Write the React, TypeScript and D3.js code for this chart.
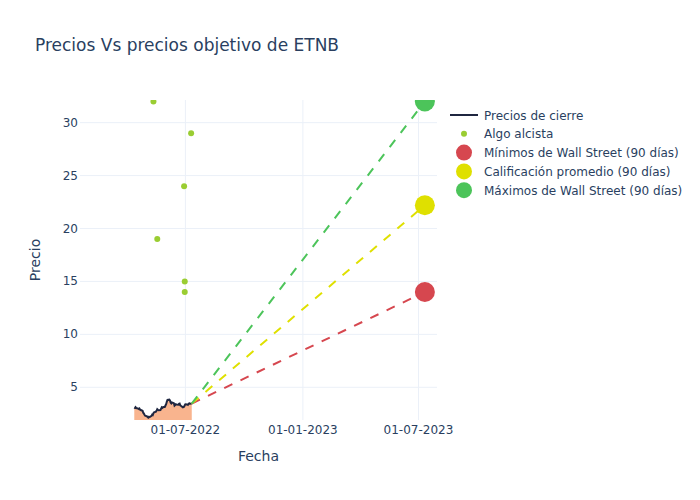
import * as d3 from "d3";
import { useEffect, useRef } from "react";

// closing prices, one per trading day starting at priceStart
const priceStart = "2022-04-12";
const closes = [
	3.1, 3.05, 3.12, 3.04, 2.98, 2.95, 3.0, 2.9, 2.85, 2.78, 2.6, 2.52, 2.4,
	2.32, 2.25, 2.18, 2.14, 2.22, 2.19, 2.3, 2.42, 2.38, 2.55, 2.64, 2.7, 2.8,
	2.93, 2.88, 2.84, 2.86, 2.98, 3.1, 3.05, 3.12, 3.16, 3.3, 3.42, 3.65, 3.8,
	3.83, 3.74, 3.55, 3.48, 3.56, 3.5, 3.27, 3.33, 3.4, 3.38, 3.35, 3.44, 3.46,
	3.3, 3.25, 3.11, 3.14, 3.16, 3.3, 3.4, 3.38, 3.34, 3.42, 3.49, 3.44, 3.46,
];

// analyst targets ("Algo alcista")
const bullDates = ["2022-05-12", "2022-07-10", "2022-06-29", "2022-05-18", "2022-06-30", "2022-06-30"];
const bullValues = [32, 29, 24, 19, 15, 14];

// wall street 90 day targets
const targetDate = "2023-07-11";
const targetNames = [
	"Mínimos de Wall Street (90 días)",
	"Calificación promedio (90 días)",
	"Máximos de Wall Street (90 días)",
];
const targetValues = [14, 22.2, 32];
const targetColors = ["#d6474f", "#dfe000", "#4cc45a"];

const xTicks = ["2022-07-01", "2023-01-01", "2023-07-01"];
const yTicks = [5, 10, 15, 20, 25, 30];

const width = 700;
const height = 500;
const margin = { top: 100, right: 263, bottom: 80, left: 80 };
const textColor = "#2a3f5f";
const gridColor = "#ebf0f8";
const font = "'DejaVu Sans', sans-serif";

const parse = d3.utcParse("%Y-%m-%d");

const App = () => {
	const svgRef = useRef<SVGSVGElement | null>(null);

	useEffect(() => {
		const svg = d3.select(svgRef.current);
		svg.selectAll("*").remove();

		//trading days for the closes
		const days: Date[] = [];
		let d = parse(priceStart)!;
		while (days.length < closes.length) {
			const wd = d.getUTCDay();
			if (wd !== 0 && wd !== 6) days.push(d);
			d = d3.utcDay.offset(d, 1);
		}
		const prices = closes.map((v, i) => ({ date: days[i], value: v }));
		const last = prices[prices.length - 1];

		const x = d3
			.scaleUtc()
			.domain([parse("2022-01-17")!, parse("2023-07-30")!])
			.range([margin.left, width - margin.right]);
		const y = d3
			.scaleLinear()
			.domain([1.91, 32.14])
			.range([height - margin.bottom, margin.top]);

		svg.append("rect").attr("width", width).attr("height", height).attr("fill", "white");

		svg
			.append("defs")
			.append("clipPath")
			.attr("id", "plot-clip")
			.append("rect")
			.attr("x", margin.left)
			.attr("y", margin.top)
			.attr("width", width - margin.left - margin.right)
			.attr("height", height - margin.top - margin.bottom);

		//grid
		const grid = svg.append("g");
		grid
			.selectAll("line.gx")
			.data(xTicks.map((t) => parse(t)!))
			.enter()
			.append("line")
			.attr("x1", (t) => x(t))
			.attr("x2", (t) => x(t))
			.attr("y1", margin.top)
			.attr("y2", height - margin.bottom)
			.attr("stroke", gridColor);
		grid
			.selectAll("line.gy")
			.data(yTicks)
			.enter()
			.append("line")
			.attr("x1", margin.left)
			.attr("x2", width - margin.right)
			.attr("y1", (t) => y(t))
			.attr("y2", (t) => y(t))
			.attr("stroke", gridColor);

		const plot = svg.append("g").attr("clip-path", "url(#plot-clip)");

		//area + closing line
		const area = d3
			.area<{ date: Date; value: number }>()
			.x((p) => x(p.date))
			.y0(y(0))
			.y1((p) => y(p.value));
		plot.append("path").datum(prices).attr("d", area).attr("fill", "#f9b48e");
		const line = d3
			.line<{ date: Date; value: number }>()
			.x((p) => x(p.date))
			.y((p) => y(p.value));
		plot
			.append("path")
			.datum(prices)
			.attr("d", line)
			.attr("fill", "none")
			.attr("stroke", "#1f2640")
			.attr("stroke-width", 2);

		//bullish points
		plot
			.selectAll("circle.bull")
			.data(bullDates.map((b, i) => ({ date: parse(b)!, value: bullValues[i] })))
			.enter()
			.append("circle")
			.attr("cx", (p) => x(p.date))
			.attr("cy", (p) => y(p.value))
			.attr("r", 3)
			.attr("fill", "#9acd32");

		//dashed projections + target markers
		const tDate = parse(targetDate)!;
		targetValues.forEach((v, i) => {
			plot
				.append("line")
				.attr("x1", x(last.date))
				.attr("y1", y(last.value))
				.attr("x2", x(tDate))
				.attr("y2", y(v))
				.attr("stroke", targetColors[i])
				.attr("stroke-width", 2)
				.attr("stroke-dasharray", "9,9");
		});
		targetValues.forEach((v, i) => {
			plot
				.append("circle")
				.attr("cx", x(tDate))
				.attr("cy", y(v))
				.attr("r", 10)
				.attr("fill", targetColors[i]);
		});

		//axes labels
		svg
			.append("g")
			.selectAll("text")
			.data(xTicks.map((t) => parse(t)!))
			.enter()
			.append("text")
			.attr("x", (t) => x(t))
			.attr("y", height - margin.bottom + 14)
			.attr("text-anchor", "middle")
			.attr("font-size", 12)
			.attr("font-family", font)
			.attr("fill", textColor)
			.text((t) => d3.utcFormat("%d-%m-%Y")(t));
		svg
			.append("g")
			.selectAll("text")
			.data(yTicks)
			.enter()
			.append("text")
			.attr("x", margin.left - 2)
			.attr("y", (t) => y(t) + 4)
			.attr("text-anchor", "end")
			.attr("font-size", 12)
			.attr("font-family", font)
			.attr("fill", textColor)
			.text((t) => t);

		svg
			.append("text")
			.attr("x", (margin.left + width - margin.right) / 2)
			.attr("y", 461)
			.attr("text-anchor", "middle")
			.attr("font-size", 14)
			.attr("font-family", font)
			.attr("fill", textColor)
			.text("Fecha");
		svg
			.append("text")
			.attr("transform", `translate(40, ${(margin.top + height - margin.bottom) / 2}) rotate(-90)`)
			.attr("text-anchor", "middle")
			.attr("font-size", 14)
			.attr("font-family", font)
			.attr("fill", textColor)
			.text("Precio");

		//title
		svg
			.append("text")
			.attr("x", 35)
			.attr("y", 51)
			.attr("font-size", 17)
			.attr("font-family", font)
			.attr("fill", textColor)
			.text("Precios Vs precios objetivo de ETNB");

		//legend
		const legend = svg.append("g").attr("transform", "translate(450, 115)");
		const rows = ["Precios de cierre", "Algo alcista", ...targetNames];
		rows.forEach((name, i) => {
			const g = legend.append("g").attr("transform", `translate(0, ${i * 18.8})`);
			if (i === 0) {
				g.append("line").attr("x1", 0).attr("x2", 28).attr("stroke", "#1f2640").attr("stroke-width", 2);
			} else if (i === 1) {
				g.append("circle").attr("cx", 14).attr("r", 3).attr("fill", "#9acd32");
			} else {
				g.append("circle").attr("cx", 14).attr("r", 8).attr("fill", targetColors[i - 2]);
			}
			g.append("text")
				.attr("x", 34)
				.attr("y", 4.5)
				.attr("font-size", 12)
				.attr("font-family", font)
				.attr("fill", textColor)
				.text(name);
		});
	}, []);

	return (
		<svg
			ref={svgRef}
			width={width}
			height={height}
			style={{ position: "absolute", left: 0, top: 0 }}
		/>
	);
};

export default App;
